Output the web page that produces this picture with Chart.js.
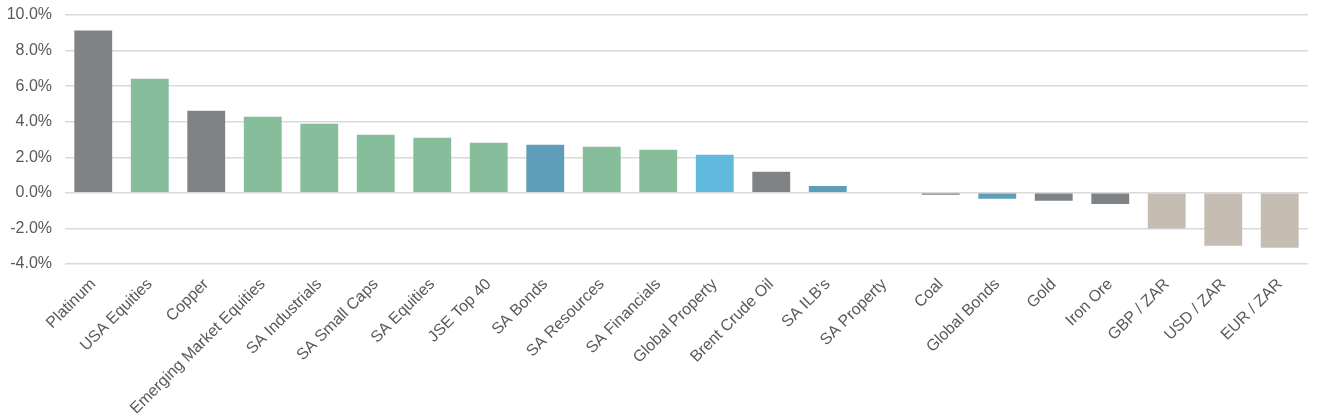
<!DOCTYPE html>
<html>
<head>
<meta charset="utf-8">
<script src="https://cdn.jsdelivr.net/npm/chart.js@4"></script>
<style>
  html, body { margin: 0; padding: 0; background: #fff; }
  #wrap { width: 1318px; height: 420px; }
</style>
</head>
<body>
<div id="wrap"><canvas id="returnsChart"></canvas></div>
<script>
'use strict';

const categories = ['Platinum', 'USA Equities', 'Copper', 'Emerging Market Equities', 'SA Industrials',
  'SA Small Caps', 'SA Equities', 'JSE Top 40', 'SA Bonds', 'SA Resources', 'SA Financials',
  'Global Property', 'Brent Crude Oil', 'SA ILB\'s', 'SA Property', 'Coal', 'Global Bonds',
  'Gold', 'Iron Ore', 'GBP / ZAR', 'USD / ZAR', 'EUR / ZAR'];

const returns = [9.13, 6.42, 4.62, 4.28, 3.89, 3.27, 3.1, 2.82, 2.7, 2.59, 2.42, 2.14, 1.18, 0.39,
  0.0, -0.1, -0.33, -0.45, -0.62, -2.0, -2.97, -3.08];

// asset class of each bar, picks the colour
const groups = ['commodity', 'equity', 'commodity', 'equity', 'equity', 'equity', 'equity', 'equity',
  'bond', 'equity', 'equity', 'property', 'commodity', 'bond', 'property', 'commodity', 'bond',
  'commodity', 'commodity', 'currency', 'currency', 'currency'];

const yTicks = [-4, -2, 0, 2, 4, 6, 8, 10];

const groupColours = {
  commodity: '#7f8386',
  equity: '#86bd9b',
  bond: '#5f9eb9',
  property: '#62b9de',
  currency: '#c5bdb2'
};

let ctx = document.getElementById('returnsChart').getContext('2d');

// eslint-disable-next-line no-unused-vars
let returnsChart = new Chart(ctx, {
  type: 'bar',
  data: {
    labels: categories,
    datasets: [{
      label: 'Return',
      data: returns,
      backgroundColor: groups.map(g => groupColours[g]),
      borderWidth: 0,
      categoryPercentage: 1,
      barPercentage: 0.67
    }]
  },
  options: {
    responsive: true,
    maintainAspectRatio: false,
    animation: false,
    layout: {
      padding: { top: 15, right: 10, left: 0, bottom: 0 }
    },
    plugins: {
      legend: { display: false },
      tooltip: { enabled: false }
    },
    scales: {
      x: {
        afterFit: function (axis) { axis.height = 156; },
        grid: { display: false, drawTicks: false },
        border: { display: false },
        ticks: {
          color: '#595959',
          font: { family: 'Liberation Sans, Arial', size: 16 },
          maxRotation: 45,
          minRotation: 45,
          autoSkip: false,
          padding: 11
        }
      },
      y: {
        min: -4,
        max: 10,
        afterFit: function (axis) {
          axis.width = 65;
          // the top label may hang over the edge, no extra room for it
          axis.paddingTop = 0;
          axis.paddingBottom = 0;
        },
        afterBuildTicks: function (axis) {
          axis.ticks = yTicks.map(v => ({ value: v }));
        },
        grid: { color: '#d9d9d9', lineWidth: 1.5, drawTicks: false },
        border: { display: false },
        ticks: {
          color: '#595959',
          font: { family: 'Liberation Sans, Arial', size: 16 },
          padding: 13,
          callback: function (v) { return v.toFixed(1) + '%'; }
        }
      }
    }
  }
});
</script>
</body>
</html>
